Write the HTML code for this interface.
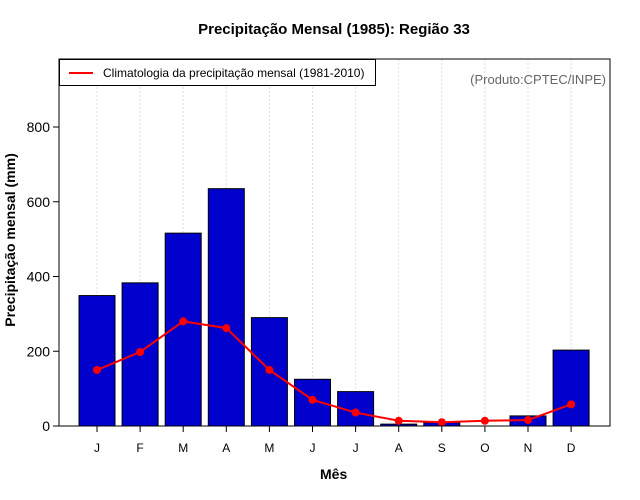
<!DOCTYPE html>
<html><head><meta charset="utf-8"><style>body{margin:0;background:#fff}svg{display:block}text{font-family:"Liberation Sans",sans-serif}</style></head>
<body>
<svg id="c" width="640" height="500"></svg>
<script>
const months=["J","F","M","A","M","J","J","A","S","O","N","D"];
const precip=[349,383,516,635,290,125,92,5,9,0,27,203];
const clim=[150,198,280,262,150,70,36,14,10,14,16,58];
const yTicks=[0,200,400,600,800];
const svg=document.getElementById('c');const NS='http://www.w3.org/2000/svg';
function mk(t,a,p){const e=document.createElementNS(NS,t);for(const k in a)e.setAttribute(k,a[k]);(p||svg).appendChild(e);return e;}
const L=59,R=610,T=59,B=426;
const y=v=>B-v*(299/800);
const x=i=>97+i*43.1;
const bw=36;
// grid
months.forEach((m,i)=>{const g=mk('line',{x1:x(i),x2:x(i),y1:T,y2:B,stroke:'#ddd','stroke-dasharray':'2,2'});

});
// bars
precip.forEach((v,i)=>{const r=mk('rect',{x:x(i)-bw/2,y:y(v),width:bw,height:B-y(v),fill:'#0000cd',stroke:'#000','stroke-width':1});

});
// clim line
const pl=mk('polyline',{points:clim.map((v,i)=>x(i)+','+y(v)).join(' '),fill:'none',stroke:'#f00','stroke-width':2});


clim.forEach((v,i)=>{const c=mk('circle',{cx:x(i),cy:y(v),r:4,fill:'#f00'});

});
// frame
const f=mk('rect',{x:L,y:T,width:R-L,height:B-T,fill:'none',stroke:'#000'});


// y ticks
yTicks.forEach(v=>{mk('line',{x1:L-6,x2:L,y1:y(v),y2:y(v),stroke:'#000'});
const t=mk('text',{x:L-9,y:y(v)+5,'text-anchor':'end','font-size':14});t.textContent=v;

});
months.forEach((m,i)=>{mk('line',{x1:x(i),x2:x(i),y1:B,y2:B+6,stroke:'#000'});
const t=mk('text',{x:x(i),y:B+26,'text-anchor':'middle','font-size':12});t.textContent=m;

});
</script>
<div style="position:absolute;left:0;top:0;width:640px;height:500px;pointer-events:none;font-family:'Liberation Sans',sans-serif">
<div style="position:absolute;top:21px;width:100%;left:14px;text-align:center;font-weight:bold;font-size:15px">Precipitação Mensal (1985): Região 33</div>
<div style="position:absolute;top:466px;left:320px;font-weight:bold;font-size:14px">Mês</div>
<div style="position:absolute;left:-90px;top:232px;width:200px;text-align:center;transform:rotate(-90deg);font-weight:bold;font-size:14px">Precipitação mensal (mm)</div>
<div style="position:absolute;left:59px;top:59px;width:317px;height:27px;border:1px solid #000;background:#fff;box-sizing:border-box">
<div style="position:absolute;left:9px;top:12px;width:24px;height:2px;background:#f00"></div>
<div style="position:absolute;left:43px;top:6px;font-size:12px">Climatologia da precipitação mensal (1981-2010)</div></div>
<div style="position:absolute;right:34px;top:72px;font-size:13px;color:#666">(Produto:CPTEC/INPE)</div>
</div>
</body></html>
